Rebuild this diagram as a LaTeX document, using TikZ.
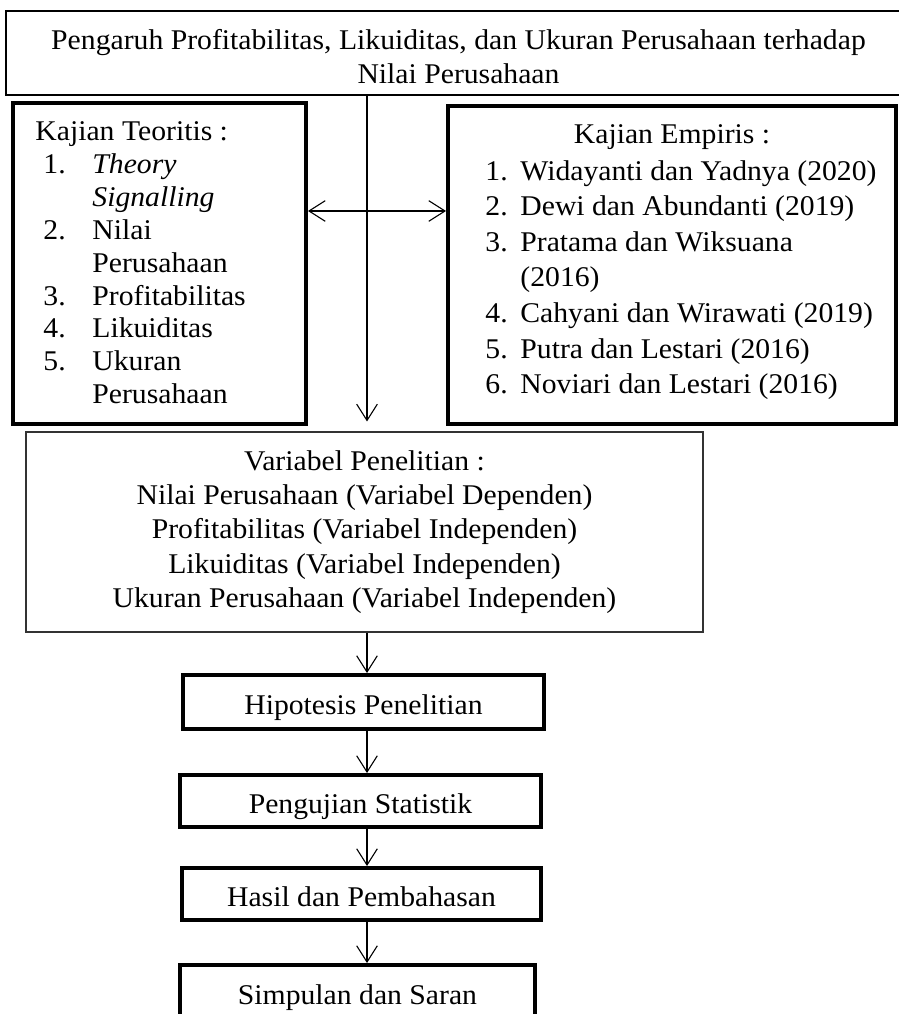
\documentclass[tikz,border=0pt]{standalone}
\usepackage{fontspec}
\setmainfont{Liberation Serif}[FakeStretch=1.04]
\usetikzlibrary{arrows.meta}

\newcommand{\nomorteori}[2]{\hspace*{0.128cm}\makebox[0.784cm][l]{#1}#2}
\newcommand{\lanjutteori}[1]{\hspace*{0.912cm}#1}
\newcommand{\nomorempiris}[2]{\makebox[0.56cm][l]{#1}#2}
\newcommand{\lanjutempiris}[1]{\hspace*{0.56cm}#1}

\begin{document}
\begin{tikzpicture}[x=0.016cm, y=-0.016cm,
  font=\fontsize{13}{15}\selectfont,
  kotak/.style={draw, line width=1.8pt, rectangle, inner sep=0pt},
  kotaktipis/.style={draw=black!80, line width=0.5pt, rectangle, inner sep=0pt},
  tahap/.style={kotak, text height=11pt, text depth=0pt},
  panah/.style={-{Straight Barb[length=2.6mm,width=3.3mm]}, line width=0.5pt},
  panahdua/.style={{Straight Barb[length=2.6mm,width=3.3mm]}-{Straight Barb[length=2.6mm,width=3.3mm]}, line width=0.5pt}]

\useasboundingbox (0,0) rectangle (898,1014);

% judul penelitian (kotak melewati tepi kanan)
\node[draw, line width=0.9pt, minimum width=934*0.016cm, minimum height=84*0.016cm] (judul) at (473,53) {};
\node[align=center, inner sep=0pt, font=\fontsize{13}{15.5}\selectfont] (judulteks) at (458.5,57)
  {Pengaruh Profitabilitas, Likuiditas, dan Ukuran Perusahaan terhadap\\Nilai Perusahaan};

% kajian teoritis dan empiris
\node[kotak, minimum width=293*0.016cm, minimum height=321*0.016cm] (teori) at (159.5,263.5) {};
\node[kotak, minimum width=448*0.016cm, minimum height=318*0.016cm] (empiris) at (672,265) {};

\node[anchor=north west, align=left, inner sep=0pt] (teorilist) at (35,121) {Kajian Teoritis :\\
  \nomorteori{1.}{\textit{Theory}}\\
  \lanjutteori{\textit{Signalling}}\\
  \nomorteori{2.}{Nilai}\\
  \lanjutteori{Perusahaan}\\
  \nomorteori{3.}{Profitabilitas}\\
  \nomorteori{4.}{Likuiditas}\\
  \nomorteori{5.}{Ukuran}\\
  \lanjutteori{Perusahaan}};

\node[anchor=base, inner sep=0pt] (empirisjudul) at (672,144) {Kajian Empiris :};
\node[anchor=north west, align=left, inner sep=0pt, font=\fontsize{13}{16.2}\selectfont] (empirislist) at (485,160) {%
  \nomorempiris{1.}{Widayanti dan Yadnya (2020)}\\
  \nomorempiris{2.}{Dewi dan Abundanti (2019)}\\
  \nomorempiris{3.}{Pratama dan Wiksuana}\\
  \lanjutempiris{(2016)}\\
  \nomorempiris{4.}{Cahyani dan Wirawati (2019)}\\
  \nomorempiris{5.}{Putra dan Lestari (2016)}\\
  \nomorempiris{6.}{Noviari dan Lestari (2016)}};

% variabel
\node[kotaktipis, minimum width=677*0.016cm, minimum height=200*0.016cm,
  align=center, font=\fontsize{13}{15.6}\selectfont] (variabel) at (364.5,532)
  {Variabel Penelitian :\\Nilai Perusahaan (Variabel Dependen)\\Profitabilitas (Variabel Independen)\\Likuiditas (Variabel Independen)\\Ukuran Perusahaan (Variabel Independen)};

% tahapan
\node[tahap, minimum width=361*0.016cm, minimum height=54*0.016cm] (hipotesis) at (363.5,702) {Hipotesis Penelitian};
\node[tahap, minimum width=361*0.016cm, minimum height=52*0.016cm] (pengujian) at (360.5,801) {Pengujian Statistik};
\node[tahap, minimum width=359*0.016cm, minimum height=52*0.016cm] (hasil) at (361.5,894) {Hasil dan Pembahasan};
\node[tahap, minimum width=355*0.016cm, minimum height=54*0.016cm] (simpulan) at (357.5,992) {Simpulan dan Saran};

% panah
\coordinate (sumbu) at (367,0);
\coordinate (silang) at (0,211);
\draw[panah, shorten >=0.16cm] (judul.south -| sumbu) -- (variabel.north -| sumbu);
\draw[panahdua] (teori.east |- silang) -- (empiris.west |- silang);
\draw[panah] (variabel.south -| sumbu) -- (hipotesis.north -| sumbu);
\draw[panah] (hipotesis.south -| sumbu) -- (pengujian.north -| sumbu);
\draw[panah] (pengujian.south -| sumbu) -- (hasil.north -| sumbu);
\draw[panah] (hasil.south -| sumbu) -- (simpulan.north -| sumbu);
\end{tikzpicture}
\end{document}
